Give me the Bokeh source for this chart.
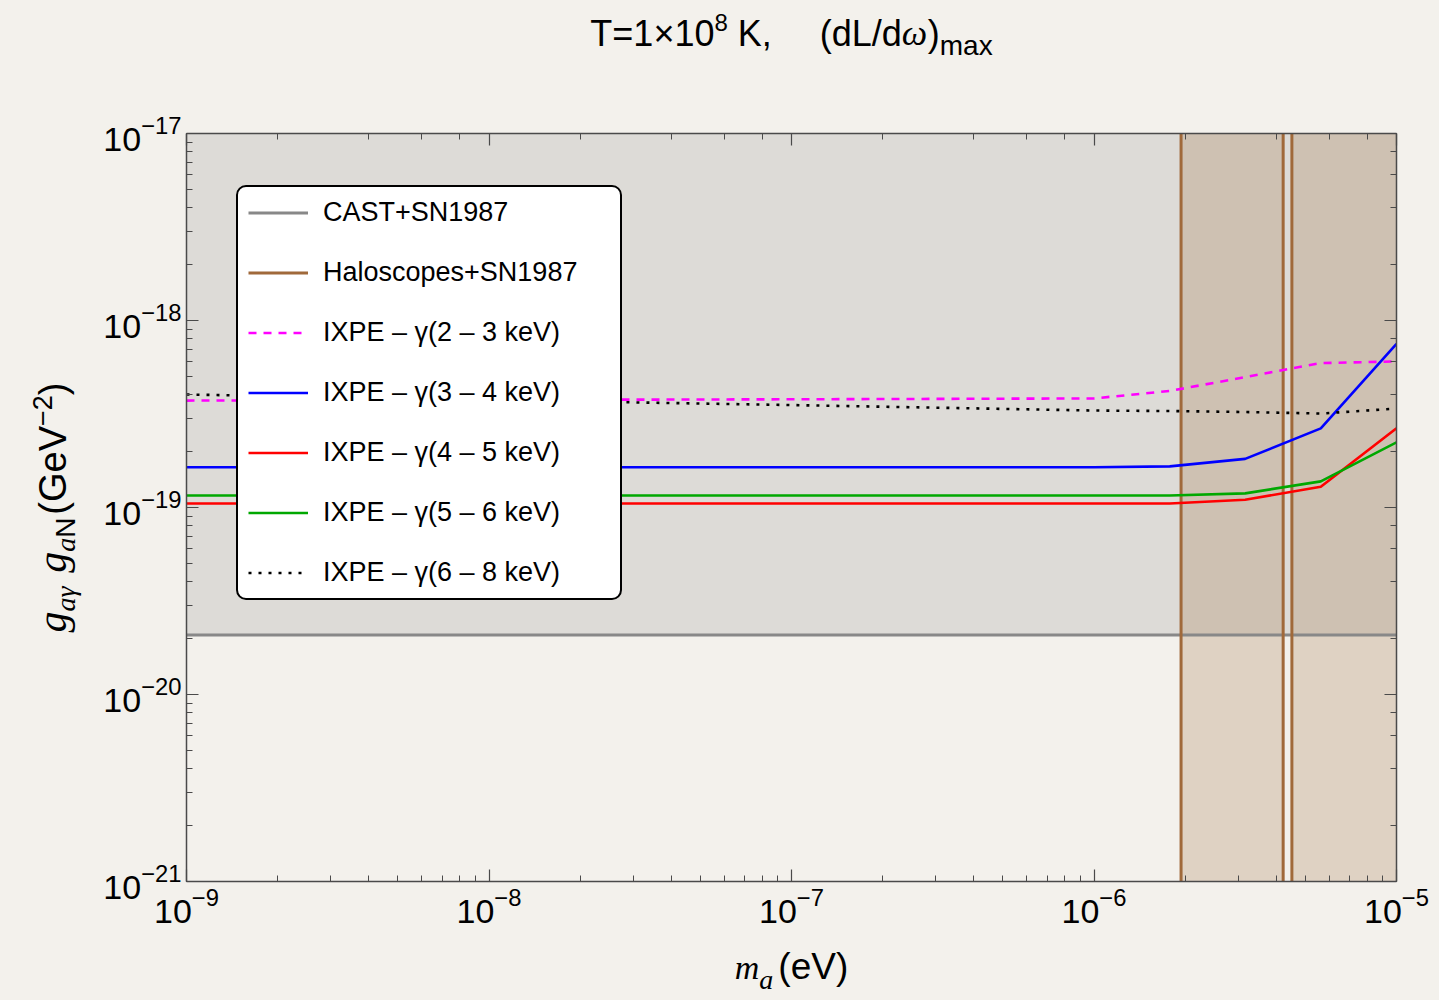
import math

from bokeh.core.properties import value
from bokeh.embed import file_html
from bokeh.layouts import column, row
from bokeh.models import (CustomJSTickFormatter, Label, Legend, LegendItem,
                          LogAxis, LogTicker, Plot, Range1d)
from bokeh.plotting import figure
from bokeh.resources import INLINE

# ---------------------------------------------------------------- data
# axion mass grid (eV) on which the IXPE bounds are sampled
m_a = [1e-9, 1e-8, 1e-7, 1e-6, 1.78e-6, 3.16e-6, 5.62e-6, 1e-5]

# IXPE upper bounds on g_ag * g_aN (GeV^-2) for each photon-energy bin
ixpe_2_3 = [3.73e-19, 3.76e-19, 3.79e-19, 3.83e-19, 4.20e-19, 4.98e-19, 5.92e-19, 6.04e-19]
ixpe_3_4 = [1.64e-19, 1.64e-19, 1.64e-19, 1.64e-19, 1.66e-19, 1.82e-19, 2.65e-19, 7.50e-19]
ixpe_4_5 = [1.05e-19, 1.05e-19, 1.05e-19, 1.05e-19, 1.05e-19, 1.10e-19, 1.29e-19, 2.65e-19]
ixpe_5_6 = [1.16e-19, 1.16e-19, 1.16e-19, 1.16e-19, 1.16e-19, 1.19e-19, 1.38e-19, 2.23e-19]
ixpe_6_8 = [4.02e-19, 3.76e-19, 3.53e-19, 3.30e-19, 3.28e-19, 3.24e-19, 3.18e-19, 3.38e-19]

# CAST + SN1987A combined bound (GeV^-2)
cast_sn1987 = 2.08e-20

# haloscope + SN1987A excluded mass windows (eV)
halo_edges = [1.94e-6, 4.22e-6, 4.51e-6]
halo_band_lo = [1.94e-6, 4.51e-6]
halo_band_hi = [4.22e-6, 1.0e-5]

x_lim = [1e-9, 1e-5]
y_lim = [1e-21, 1e-17]

series = [
    ("IXPE \u2013 \u03b3(2 \u2013 3 keV)", ixpe_2_3, "#ff00ff", "8 7"),
    ("IXPE \u2013 \u03b3(3 \u2013 4 keV)", ixpe_3_4, "#0000ff", "solid"),
    ("IXPE \u2013 \u03b3(4 \u2013 5 keV)", ixpe_4_5, "#ff0000", "solid"),
    ("IXPE \u2013 \u03b3(5 \u2013 6 keV)", ixpe_5_6, "#00a800", "solid"),
    ("IXPE \u2013 \u03b3(6 \u2013 8 keV)", ixpe_6_8, "#000000", "3 7"),
]

# ---------------------------------------------------------------- page geometry
PAPER = "#f3f1ec"
SANS = "Liberation Sans"
SERIF = "Liberation Serif"
PAGE_W, PAGE_H = 1439, 1000
TOP_H, BOTTOM_H, LEFT_W = 100, 60, 90
MAIN_W, MAIN_H = PAGE_W - LEFT_W, PAGE_H - TOP_H - BOTTOM_H
FRAME_L, FRAME_T, FRAME_W, FRAME_H = 186, 133, 1210, 748   # on the page
HAS_FRAME_ALIGN = "frame_align" in Plot.properties()

p = figure(width=MAIN_W, height=MAIN_H, x_axis_type="log", y_axis_type="log",
           x_range=Range1d(*x_lim), y_range=Range1d(*y_lim), title=None,
           min_border_left=FRAME_L - LEFT_W,
           min_border_right=PAGE_W - FRAME_L - FRAME_W,
           min_border_top=FRAME_T - TOP_H,
           min_border_bottom=MAIN_H - (FRAME_T - TOP_H) - FRAME_H,
           output_backend="svg", toolbar_location=None,
           background_fill_color=PAPER, border_fill_color=PAPER)
p.grid.visible = False
p.outline_line_color = None
if HAS_FRAME_ALIGN:
    p.frame_align = False


def style_axis(ax):
    ax.axis_line_color = "#4a4a4a"
    ax.axis_line_width = 1.5
    ax.major_tick_in = 12
    ax.major_tick_out = 0
    ax.minor_tick_in = 6
    ax.minor_tick_out = 0
    ax.major_tick_line_color = "#4a4a4a"
    ax.minor_tick_line_color = "#4a4a4a"
    ax.major_tick_line_width = 1.2
    ax.minor_tick_line_width = 1
    ax.major_label_text_font = SANS
    ax.major_label_text_font_size = "34px"
    ax.major_label_text_color = "black"
    ax.major_label_standoff = 6


for ax in p.xaxis + p.yaxis:
    style_axis(ax)
p.yaxis.major_label_standoff = 5

# mirrored tick frames on top and right, without numbers
blank = CustomJSTickFormatter(code="return ''")
top_ax = LogAxis(ticker=LogTicker(), formatter=blank)
right_ax = LogAxis(ticker=LogTicker(), formatter=blank)
for ax in (top_ax, right_ax):
    style_axis(ax)
    ax.major_label_standoff = 0
p.add_layout(top_ax, "above")
p.add_layout(right_ax, "right")

# ---------------------------------------------------------------- regions and curves
p.quad(left=[x_lim[0]], right=[x_lim[1]], bottom=[cast_sn1987], top=[y_lim[1]],
       fill_color="#808080", fill_alpha=0.19, line_color=None)
p.quad(left=halo_band_lo, right=halo_band_hi, bottom=y_lim[0], top=y_lim[1],
       fill_color="#996633", fill_alpha=0.22, line_color=None)

r_cast = p.line(x=x_lim, y=[cast_sn1987, cast_sn1987],
                line_color="#888888", line_width=3)
r_halo = p.segment(x0=halo_edges, x1=halo_edges, y0=y_lim[0], y1=y_lim[1],
                   line_color="#a0693a", line_width=3)

items = [LegendItem(label=value("CAST+SN1987"), renderers=[r_cast]),
         LegendItem(label=value("Haloscopes+SN1987"), renderers=[r_halo])]
for name, ys, color, dash in series:
    r = p.line(x=m_a, y=ys, line_color=color, line_width=2.6, line_dash=dash)
    items.append(LegendItem(label=value(name), renderers=[r]))

legend = Legend(items=items, location=(50, 281), orientation="vertical",
                label_text_font=SANS, label_text_font_size="27px",
                label_text_color="black",
                glyph_width=60, glyph_height=31, label_height=31,
                label_width=287, label_standoff=15, spacing=29, padding=10,
                border_line_color="black", border_line_width=2,
                border_line_alpha=1.0,
                background_fill_color="white", background_fill_alpha=1.0)
if "border_radius" in Legend.properties():
    legend.border_radius = 10
p.add_layout(legend)


# ---------------------------------------------------------------- text panels
def text_panel(w, h):
    f = figure(width=w, height=h, x_range=Range1d(0, w), y_range=Range1d(0, h),
               title=None, min_border=0,
               x_axis_location=None, y_axis_location=None,
               output_backend="svg", toolbar_location=None,
               background_fill_color=PAPER, border_fill_color=PAPER)
    f.grid.visible = False
    f.outline_line_color = None
    if HAS_FRAME_ALIGN:
        f.frame_align = False
    return f


ADV_SANS = {" ": 278, "(": 333, ")": 333, "+": 584, ",": 278, "/": 278,
            "=": 584, "\u00d7": 584, "\u2212": 584, "G": 778, "K": 667,
            "L": 556, "N": 722, "T": 611, "V": 667, "a": 556, "d": 556,
            "e": 556, "m": 833, "x": 500}
ADV_SERIF_I = {"a": 500, "g": 500, "m": 722, "\u03b3": 450, "\u03c9": 720}

# the label text box sits lower than the nominal baseline by roughly this
# fraction of the font size, so the anchor is lifted by the same amount
BASELINE_LIFT = 0.4


def advance(text, font, size):
    table = ADV_SERIF_I if font == SERIF else ADV_SANS
    return sum(table.get(ch, 556) for ch in text) * size / 1000.0


def rich_text(fig, pieces, center, baseline, vertical=False):
    """Lay out (text, font, style, size, shift) pieces; a None text is a gap."""
    def width(pc):
        t, f, st, s, sh = pc
        return s if t is None else advance(t, f, s)

    pos = center - sum(width(pc) for pc in pieces) / 2.0
    for pc in pieces:
        t, f, st, s, sh = pc
        if t is not None:
            lift = sh + BASELINE_LIFT * s
            if vertical:
                kw = dict(x=baseline - lift, y=pos, angle=math.pi / 2)
            else:
                kw = dict(x=pos, y=baseline + lift)
            fig.add_layout(Label(text=t, text_font=f, text_font_style=st,
                                 text_font_size=f"{s}px", text_color="black",
                                 text_align="left", text_baseline="alphabetic",
                                 **kw))
        pos += width(pc)


frame_cx = FRAME_L + FRAME_W / 2          # page x of the frame centre
frame_cy = FRAME_T + FRAME_H / 2          # page y of the frame centre

# title: T = 1x10^8 K, (dL/dw)_max
top = text_panel(PAGE_W, TOP_H)
rich_text(top, [("T=1\u00d710", SANS, "normal", 36, 0),
                ("8", SANS, "normal", 24, 15),
                (None, None, None, 10, 0),
                ("K,", SANS, "normal", 36, 0),
                (None, None, None, 48, 0),
                ("(dL/d", SANS, "normal", 36, 0),
                ("\u03c9", SERIF, "italic", 36, 0),
                (")", SANS, "normal", 36, 0),
                ("max", SANS, "normal", 28, -9)],
          center=frame_cx, baseline=TOP_H - 47)

# y axis title: g_ag g_aN (GeV^-2), reading upwards
left = text_panel(LEFT_W, MAIN_H)
rich_text(left, [("g", SERIF, "italic", 42, 0),
                 ("a\u03b3", SERIF, "italic", 28, -8),
                 (None, None, None, 12, 0),
                 ("g", SERIF, "italic", 42, 0),
                 ("a", SERIF, "italic", 28, -8),
                 ("N", SANS, "normal", 28, -8),
                 (None, None, None, 3, 0),
                 ("(GeV", SANS, "normal", 38, 0),
                 ("\u22122", SANS, "normal", 27, 15),
                 (")", SANS, "normal", 38, 0)],
          center=MAIN_H - (frame_cy - TOP_H), baseline=68, vertical=True)

# x axis title: m_a (eV)
bottom = text_panel(PAGE_W, BOTTOM_H)
rich_text(bottom, [("m", SERIF, "italic", 34, 0),
                   ("a", SERIF, "italic", 28, -9),
                   (None, None, None, 5, 0),
                   ("(eV)", SANS, "normal", 37, 0)],
          center=frame_cx, baseline=PAGE_H - 981)

paper_bg = {"background-color": PAPER}
page = column(top, row(left, p, spacing=0, styles=paper_bg), bottom,
              spacing=0, styles=paper_bg)
open("out.html", "w").write(file_html(page, INLINE))
